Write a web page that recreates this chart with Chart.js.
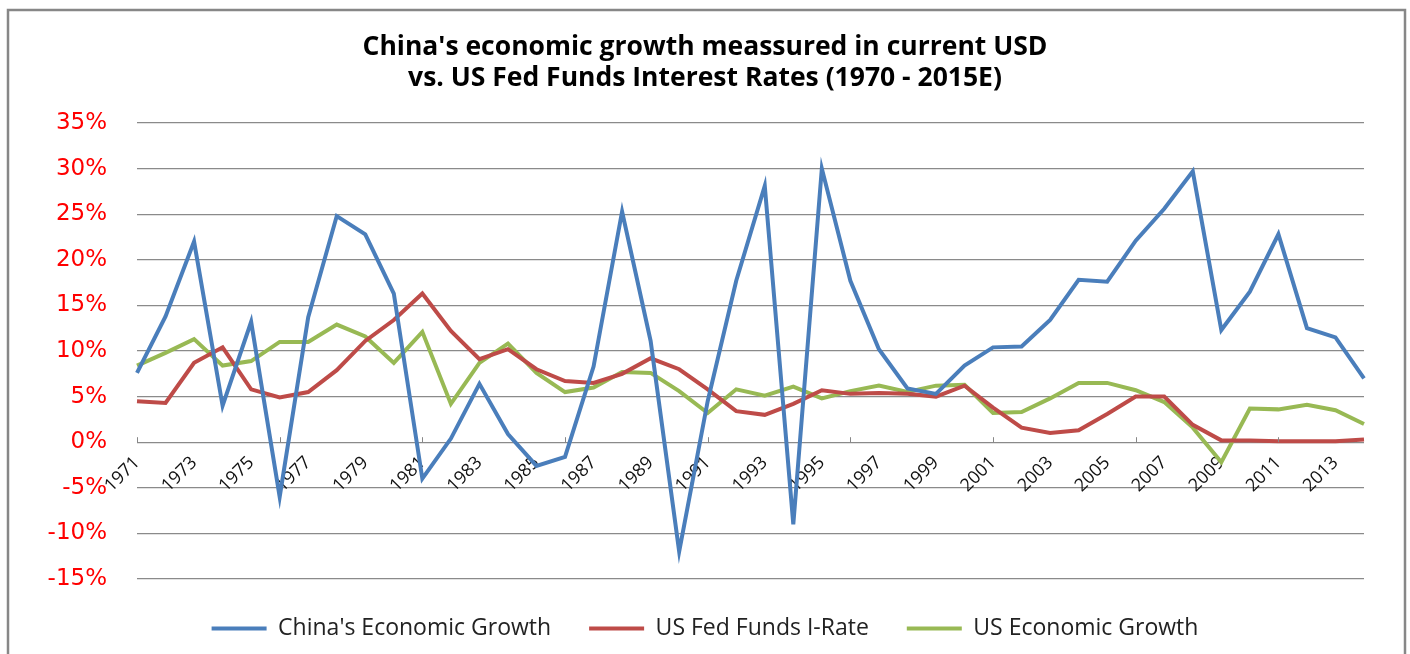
<!DOCTYPE html>
<html>
<head>
<meta charset="utf-8">
<script src="https://cdn.jsdelivr.net/npm/chart.js@4"></script>
<style>
  html, body { margin: 0; padding: 0; background: #fff; }
  #wrap { width: 1410px; height: 654px; }
</style>
</head>
<body>
<div id="wrap"><canvas id="myChart" width="1410" height="654"></canvas></div>
<script>
// years on the category axis
const years = ['1971','1972','1973','1974','1975','1976','1977','1978','1979','1980',
  '1981','1982','1983','1984','1985','1986','1987','1988','1989','1990',
  '1991','1992','1993','1994','1995','1996','1997','1998','1999','2000',
  '2001','2002','2003','2004','2005','2006','2007','2008','2009','2010',
  '2011','2012','2013','2014'];

// values in percent
const chinaGrowth = [7.6, 13.8, 22.0, 4.0, 13.2, -6.0, 13.7, 24.8, 22.8, 16.3,
  -4.0, 0.4, 6.4, 0.9, -2.6, -1.6, 8.3, 25.3, 11.1, -12.0,
  4.5, 17.7, 28.1, -9.0, 30.0, 17.7, 10.2, 5.9, 5.3, 8.4,
  10.4, 10.5, 13.4, 17.8, 17.6, 22.1, 25.6, 29.7, 12.3, 16.5,
  22.8, 12.5, 11.5, 7.0];

const fedFundsRate = [4.5, 4.3, 8.7, 10.4, 5.8, 4.9, 5.5, 7.9, 11.1, 13.4,
  16.3, 12.2, 9.1, 10.2, 8.0, 6.7, 6.5, 7.5, 9.2, 8.0,
  5.8, 3.4, 3.0, 4.2, 5.7, 5.3, 5.4, 5.3, 5.0, 6.2,
  3.8, 1.6, 1.0, 1.3, 3.1, 5.0, 5.0, 1.9, 0.2, 0.2,
  0.1, 0.1, 0.1, 0.3];

const usGrowth = [8.4, 9.8, 11.3, 8.4, 8.9, 11.0, 11.0, 12.9, 11.6, 8.7,
  12.1, 4.2, 8.7, 10.8, 7.6, 5.5, 6.0, 7.7, 7.6, 5.6,
  3.2, 5.8, 5.1, 6.1, 4.8, 5.6, 6.2, 5.5, 6.2, 6.3,
  3.2, 3.3, 4.8, 6.5, 6.5, 5.7, 4.4, 1.6, -2.2, 3.7,
  3.6, 4.1, 3.5, 2.0];

const seriesNames = ["China's Economic Growth", 'US Fed Funds I-Rate', 'US Economic Growth'];
const seriesColors = ['#4A7EBB', '#BE4B48', '#98B954'];

// frame round the whole chart + white background
const frame = {
  id: 'frame',
  beforeDraw(chart) {
    const c = chart.ctx;
    c.save();
    c.fillStyle = '#fff';
    c.fillRect(0, 0, chart.width, chart.height);
    c.strokeStyle = '#878787';
    c.lineWidth = 2.5;
    c.strokeRect(8, 10, 1397, 700);
    c.restore();
  }
};

// small tick marks on the zero line, every 5 categories
const zeroTicks = {
  id: 'zeroTicks',
  afterDatasetsDraw(chart) {
    const x = chart.scales.x, y = chart.scales.y;
    const y0 = y.getPixelForValue(0);
    const c = chart.ctx;
    c.save();
    c.strokeStyle = '#878787';
    c.lineWidth = 1;
    for (let i = 0; i < years.length; i += 5) {
      const px = Math.round(x.getPixelForValue(i)) + 0.5;
      c.beginPath();
      c.moveTo(px, y0 - 5);
      c.lineTo(px, y0);
      c.stroke();
    }
    c.restore();
  }
};

const datasets = [chinaGrowth, fedFundsRate, usGrowth].map((d, i) => ({
  label: seriesNames[i],
  data: d,
  borderColor: seriesColors[i],
  backgroundColor: seriesColors[i],
  borderWidth: 4,
  pointRadius: 0,
  tension: 0
}));

new Chart(document.getElementById('myChart'), {
  type: 'line',
  data: { labels: years, datasets: datasets },
  options: {
    responsive: false,
    animation: false,
    layout: { padding: { left: 0, right: 0, top: 0, bottom: 4 } },
    plugins: {
      title: {
        display: true,
        text: ["China's economic growth meassured in current USD", 'vs. US Fed Funds Interest Rates (1970 - 2015E)'],
        color: '#000',
        font: { family: 'Open Sans', size: 26.5, weight: 'bold', lineHeight: 1.17 },
        padding: { top: 32, bottom: 29 }
      },
      legend: {
        position: 'bottom',
        labels: {
          usePointStyle: true,
          pointStyle: 'line',
          pointStyleWidth: 55,
          color: '#222',
          padding: 38,
          font: { family: 'Open Sans', size: 23 }
        }
      },
      tooltip: { enabled: false }
    },
    scales: {
      x: {
        position: { y: 0 },
        grid: { display: false },
        border: { display: false },
        // keep a gap on the right of the plot without shifting title/legend
        afterFit(scale) { scale.paddingRight = 46; },
        ticks: {
          autoSkip: false,
          maxRotation: 45,
          minRotation: 45,
          color: '#111',
          padding: 2,
          font: { family: 'Open Sans', size: 18 },
          callback: (v, i) => (i % 2 === 0 ? years[i] : '')
        }
      },
      y: {
        min: -15,
        max: 35,
        afterFit(scale) { scale.width = 137; },
        grid: { color: '#8a8a8a', lineWidth: 1.3, drawTicks: false },
        border: { display: false },
        ticks: {
          stepSize: 5,
          padding: 30,
          color: '#ff0000',
          font: { family: 'DejaVu Sans', size: 23 },
          callback: v => v + '%'
        }
      }
    }
  },
  plugins: [frame, zeroTicks]
});
</script>
</body>
</html>
